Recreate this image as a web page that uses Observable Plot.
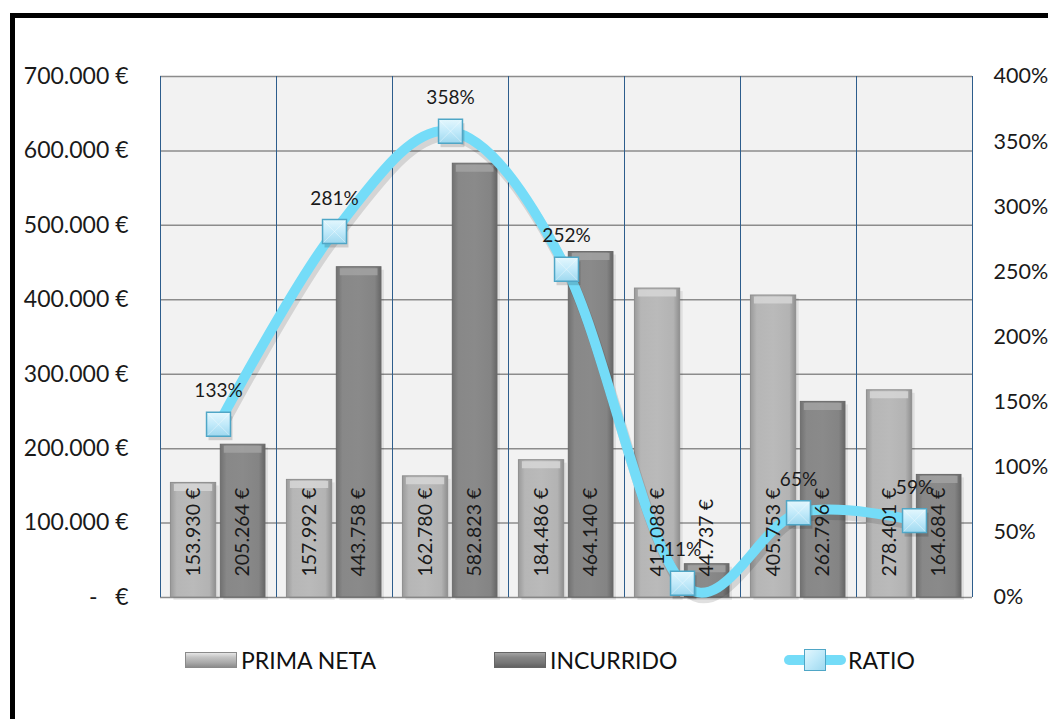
<!DOCTYPE html>
<html><head><meta charset="utf-8">
<script src="https://cdn.jsdelivr.net/npm/d3@7"></script>
<script src="https://cdn.jsdelivr.net/npm/@observablehq/plot@0.6"></script>
<style>
body{margin:0;background:#fff;font-family:Lato,sans-serif;overflow:hidden;width:1048px;height:719px;}
#frame{position:absolute;left:10px;top:13px;width:1100px;height:800px;border-left:5px solid #000;border-top:5px solid #000;box-sizing:border-box;z-index:3;pointer-events:none;}
#chart{position:absolute;left:0;top:0;}
#legend{position:absolute;top:645px;left:0;width:1048px;height:30px;font-size:23px;color:#111;}
.item{position:absolute;top:0;height:30px;display:flex;align-items:center;}
.sw{width:52px;height:16px;margin-right:4px;box-sizing:border-box;}
.sw.p{background:linear-gradient(180deg,#e6e6e6 0%,#c4c4c4 30%,#a8a8a8 70%,#8c8c8c 100%);border:1px solid #8a8a8a;}
.sw.i{background:linear-gradient(180deg,#a4a4a4 0%,#878787 30%,#767676 70%,#626262 100%);border:1px solid #666;}
.ratio-sw{position:relative;width:62px;height:22px;margin-right:2px;}
.ratio-sw .ln{position:absolute;left:0;top:6px;width:62px;height:10px;border-radius:5px;background:#74dcf8;}
.ratio-sw .sq{position:absolute;left:20px;top:0;width:22px;height:22px;box-sizing:border-box;border:1.5px solid #4fa6c6;background:linear-gradient(135deg,#e2f6fd 0%,#bfe9f9 50%,#9fd9f0 100%);}
</style></head>
<body>
<div id="frame"></div>
<div id="chart"></div>
<div id="legend"></div>
<script>
// ---- data ----
const categories = ["1", "2", "3", "4", "5", "6", "7"];
const primaNeta = [153930, 157992, 162780, 184486, 415088, 405753, 278401];
const incurrido = [205264, 443758, 582823, 464140, 44737, 262796, 164684];
const ratio = [1.33, 2.81, 3.58, 2.52, 0.11, 0.65, 0.59];
const leftTicks = [0, 100000, 200000, 300000, 400000, 500000, 600000, 700000];
const rightTicks = [0, 0.5, 1, 1.5, 2, 2.5, 3, 3.5, 4];
const seriesNames = ["PRIMA NETA", "INCURRIDO", "RATIO"];

// ---- helpers ----
const locale = d3.formatLocale({decimal: ",", thousands: ".", grouping: [3], currency: ["", " €"]});
const fmtEuro = locale.format(",.0f");
const euro = v => v === 0 ? "-\u00a0\u00a0\u00a0€" : fmtEuro(v) + " €";
const yMax = leftTicks[leftTicks.length - 1];
const rMax = rightTicks[rightTicks.length - 1];
const r2y = r => r / rMax * yMax;

const rows = categories.map((c, i) => ({c, i, prima: primaNeta[i], inc: incurrido[i], ratio: ratio[i]}));
const bounds = d3.range(categories.length + 1);

const textColor = "#1a1a1a";
const P = [0.09, 0.48], I = [0.52, 0.905];

const plot = Plot.plot({
  width: 1048,
  height: 620,
  marginLeft: 160,
  marginRight: 76,
  marginTop: 76,
  marginBottom: 23,
  style: {fontFamily: "Lato, sans-serif", background: "transparent", color: textColor},
  x: {domain: [0, categories.length], axis: null},
  y: {domain: [0, yMax], axis: null},
  marks: [
    Plot.frame({fill: "#f2f2f2"}),
    Plot.ruleY(leftTicks, {stroke: "#8c8c8c", strokeWidth: 1.5}),
    Plot.ruleX(bounds, {y1: 0, y2: yMax, stroke: "#2d5d8c", strokeWidth: 1}),
    // bar shadows
    Plot.rectY(rows, {x1: d => d.i + P[0], x2: d => d.i + P[1], y: "prima", fill: "#000", fillOpacity: 0.08, dx: 3, dy: 3}),
    Plot.rectY(rows, {x1: d => d.i + I[0], x2: d => d.i + I[1], y: "inc", fill: "#000", fillOpacity: 0.08, dx: 3, dy: 3}),
    // bars
    Plot.rectY(rows, {x1: d => d.i + P[0], x2: d => d.i + P[1], y: "prima", fill: "url(#gPrima)", stroke: "#8e8e8e", strokeWidth: 1}),
    Plot.rectY(rows, {x1: d => d.i + I[0], x2: d => d.i + I[1], y: "inc", fill: "url(#gInc)", stroke: "#6a6a6a", strokeWidth: 1}),
    // top bevels
    Plot.ruleY(rows, {y: "prima", x1: d => d.i + P[0] + 0.03, x2: d => d.i + P[1] - 0.03, dy: 4.5, strokeWidth: 7, stroke: "#d6d6d6", strokeOpacity: 0.85}),
    Plot.ruleY(rows, {y: "inc", x1: d => d.i + I[0] + 0.03, x2: d => d.i + I[1] - 0.03, dy: 4.5, strokeWidth: 7, stroke: "#a2a2a2", strokeOpacity: 0.85}),
    // ratio line with shadow
    Plot.line(rows, {x: d => d.i + 0.5, y: d => r2y(d.ratio), stroke: "#000", strokeOpacity: 0.12, strokeWidth: 11, curve: "cardinal", dx: 2, dy: 5}),
    Plot.line(rows, {x: d => d.i + 0.5, y: d => r2y(d.ratio), stroke: "#74dcf8", strokeWidth: 10, curve: "cardinal"}),
    // bar value labels
    Plot.text(rows, {x: d => d.i + (P[0] + P[1]) / 2, y: 0, text: d => fmtEuro(d.prima) + " €", rotate: -90, textAnchor: "start", dy: -21, fontSize: 19.5, fill: textColor}),
    Plot.text(rows, {x: d => d.i + (I[0] + I[1]) / 2, y: 0, text: d => fmtEuro(d.inc) + " €", rotate: -90, textAnchor: "start", dy: -21, fontSize: 19.5, fill: textColor}),
    // markers
    Plot.dot(rows, {x: d => d.i + 0.5, y: d => r2y(d.ratio), symbol: "square", r: 13.5, fill: "#000", fillOpacity: 0.15, dx: 2, dy: 4}),
    Plot.dot(rows, {x: d => d.i + 0.5, y: d => r2y(d.ratio), symbol: "square", r: 13.5, fill: "url(#gMarker)", stroke: "#4fa6c6", strokeWidth: 1.5}),
    Plot.dot(rows, {x: d => d.i + 0.5, y: d => r2y(d.ratio), symbol: "times", r: 10, stroke: "#ffffff", strokeOpacity: 0.35, strokeWidth: 1}),
    Plot.text(rows, {x: d => d.i + 0.5, y: d => r2y(d.ratio), text: d => Math.round(d.ratio * 100) + "%", dy: -33, fontSize: 19, fill: textColor}),
    Plot.axisY(leftTicks, {anchor: "left", tickSize: 0, tickPadding: 32, tickFormat: euro, fontSize: 23, label: null, fill: textColor}),
    Plot.axisY(rightTicks.map(r2y), {anchor: "right", tickSize: 0, tickPadding: 21, tickFormat: v => Math.round(v / yMax * rMax * 100) + "%", fontSize: 21.5, label: null, textAnchor: "start", fill: textColor})
  ]
});

// gradients
const svg = d3.select(plot);
const defs = svg.insert("defs", ":first-child");
function grad(id, stops, vertical) {
  const g = defs.append("linearGradient").attr("id", id)
    .attr("x1", 0).attr("y1", 0).attr("x2", vertical ? 0 : 1).attr("y2", vertical ? 1 : 0);
  stops.forEach(([o, c]) => g.append("stop").attr("offset", o).attr("stop-color", c));
}
grad("gPrima", [[0, "#9a9a9a"], [0.14, "#b6b6b6"], [0.5, "#bababa"], [0.86, "#b3b3b3"], [1, "#8f8f8f"]]);
grad("gInc", [[0, "#717171"], [0.14, "#888888"], [0.5, "#8a8a8a"], [0.86, "#848484"], [1, "#666666"]]);
grad("gMarker", [[0, "#e4f7fd"], [0.5, "#c2eafa"], [1, "#9ed8ef"]], true);

document.getElementById("chart").appendChild(plot);

// legend
const legend = document.getElementById("legend");
const lefts = [185, 494, 784];
seriesNames.forEach((name, k) => {
  const it = document.createElement("div");
  it.className = "item";
  it.style.left = lefts[k] + "px";
  const sw = document.createElement("div");
  if (k < 2) {
    sw.className = "sw " + (k === 0 ? "p" : "i");
  } else {
    sw.className = "ratio-sw";
    sw.innerHTML = '<div class="ln"></div><div class="sq"></div>';
  }
  it.appendChild(sw);
  const t = document.createElement("span");
  t.textContent = name;
  it.appendChild(t);
  legend.appendChild(it);
});
</script>
</body></html>
